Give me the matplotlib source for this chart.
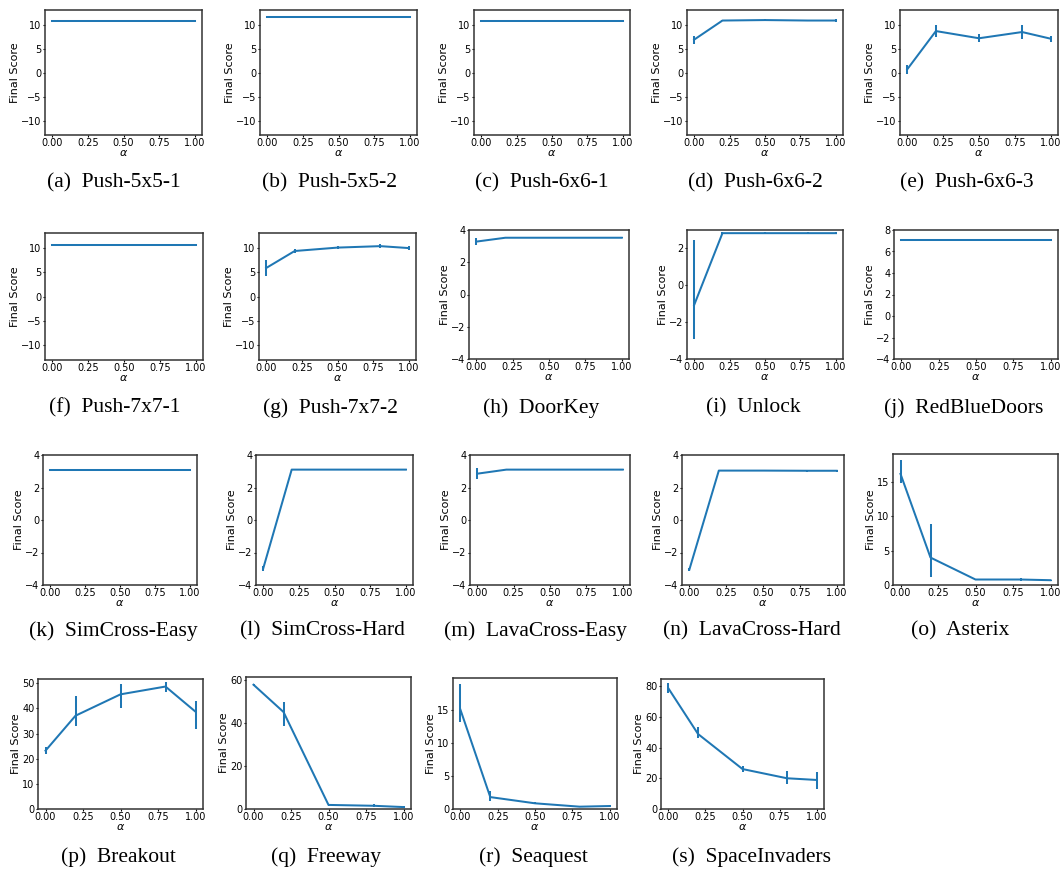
import numpy as np
import matplotlib
matplotlib.use('Agg')
import matplotlib.pyplot as plt

# alpha values used on the x axis of every panel
alpha = [0.0, 0.2, 0.5, 0.8, 1.0]

env_names = ['Push-5x5-1', 'Push-5x5-2', 'Push-6x6-1', 'Push-6x6-2', 'Push-6x6-3',
             'Push-7x7-1', 'Push-7x7-2', 'DoorKey', 'Unlock', 'RedBlueDoors',
             'SimCross-Easy', 'SimCross-Hard', 'LavaCross-Easy', 'LavaCross-Hard', 'Asterix',
             'Breakout', 'Freeway', 'Seaquest', 'SpaceInvaders']

# final score (mean) for each environment
score_mean = [
    [10.8, 10.8, 10.8, 10.8, 10.8],
    [11.6, 11.6, 11.6, 11.6, 11.6],
    [10.75, 10.75, 10.75, 10.75, 10.75],
    [6.9, 10.9, 11.0, 10.9, 10.9],
    [0.7, 8.7, 7.2, 8.5, 7.1],
    [10.7, 10.7, 10.7, 10.7, 10.7],
    [5.9, 9.4, 10.1, 10.4, 10.0],
    [3.28, 3.52, 3.52, 3.52, 3.52],
    [-1.1, 2.78, 2.78, 2.78, 2.78],
    [7.1, 7.1, 7.1, 7.1, 7.1],
    [3.1, 3.1, 3.1, 3.1, 3.1],
    [-3.0, 3.1, 3.1, 3.1, 3.1],
    [2.85, 3.1, 3.1, 3.1, 3.1],
    [-3.05, 3.04, 3.04, 3.03, 3.03],
    [16.2, 4.0, 0.8, 0.8, 0.7],
    [23.2, 37.1, 45.6, 48.7, 38.7],
    [57.9, 45.2, 1.9, 1.5, 0.9],
    [15.0, 1.8, 0.86, 0.35, 0.45],
    [78.5, 48.8, 26.0, 20.0, 18.9],
]

# lower / upper error bar lengths
err_low = [
    [0.15, 0.15, 0.15, 0.15, 0.15],
    [0.15, 0.15, 0.15, 0.15, 0.15],
    [0.15, 0.15, 0.15, 0.15, 0.15],
    [0.8, 0.2, 0.15, 0.15, 0.4],
    [0.95, 1.2, 0.85, 1.55, 0.6],
    [0.15, 0.15, 0.15, 0.15, 0.15],
    [1.55, 0.4, 0.3, 0.35, 0.4],
    [0.2, 0.04, 0.04, 0.04, 0.04],
    [1.8, 0.04, 0.04, 0.04, 0.04],
    [0.05, 0.05, 0.05, 0.05, 0.05],
    [0.04, 0.04, 0.04, 0.04, 0.04],
    [0.15, 0.04, 0.04, 0.04, 0.04],
    [0.33, 0.04, 0.04, 0.04, 0.04],
    [0.08, 0.05, 0.05, 0.05, 0.05],
    [1.4, 2.8, 0.1, 0.15, 0.1],
    [1.5, 4.1, 5.6, 2.3, 7.0],
    [0.5, 6.7, 0.6, 0.6, 0.3],
    [1.9, 0.6, 0.15, 0.1, 0.1],
    [3.2, 2.8, 2.0, 3.7, 5.9],
]
err_high = [
    [0.15, 0.15, 0.15, 0.15, 0.15],
    [0.15, 0.15, 0.15, 0.15, 0.15],
    [0.15, 0.15, 0.15, 0.15, 0.15],
    [0.8, 0.2, 0.15, 0.15, 0.4],
    [0.95, 1.2, 0.85, 1.55, 0.6],
    [0.15, 0.15, 0.15, 0.15, 0.15],
    [1.55, 0.4, 0.3, 0.35, 0.4],
    [0.2, 0.04, 0.04, 0.04, 0.04],
    [3.5, 0.04, 0.04, 0.04, 0.04],
    [0.05, 0.05, 0.05, 0.05, 0.05],
    [0.04, 0.04, 0.04, 0.04, 0.04],
    [0.15, 0.04, 0.04, 0.04, 0.04],
    [0.33, 0.04, 0.04, 0.04, 0.04],
    [0.08, 0.05, 0.05, 0.05, 0.05],
    [2.0, 4.9, 0.1, 0.15, 0.1],
    [1.5, 7.9, 4.1, 2.0, 4.1],
    [0.5, 4.6, 0.6, 0.6, 0.3],
    [3.9, 0.9, 0.15, 0.1, 0.1],
    [3.2, 4.8, 2.0, 4.7, 5.0],
]

# layout: axes boxes in pixels (left, top, right, bottom), caption centre (x, y)
W, H = 1063, 874
boxes = [
    (45, 10, 202, 135), (260, 10, 417, 135), (474, 10, 630, 135), (687, 10, 843, 135), (900, 10, 1058, 135),
    (45, 233, 203, 360), (259, 233, 416, 360), (469, 230, 629, 359), (687, 230, 843, 359), (894, 230, 1058, 359),
    (43, 455, 197, 585), (256, 455, 413, 585), (470, 455, 630, 585), (682, 455, 844, 585), (893, 454, 1058, 585),
    (38, 679, 203, 809), (246, 677, 411, 809), (453, 678, 617, 809), (661, 679, 824, 809),
]
captions = [
    (114, 183), (330, 183), (542, 183), (755, 183), (967, 183),
    (115, 408), (330, 408), (541, 408), (753, 408), (964, 408),
    (113, 631), (322, 631), (535, 631), (752, 631), (960, 631),
    (118, 857), (326, 857), (533, 857), (751, 857),
]
push_lim = ((-13, 13.1), [-10, -5, 0, 5, 10])
grid_lim = ((-4, 4), [-4, -2, 0, 2, 4])
y_limits = [push_lim] * 7 + [
    grid_lim,
    ((-4, 2.95), [-4, -2, 0, 2]),
    ((-4, 8), [-4, -2, 0, 2, 4, 6, 8]),
    grid_lim, grid_lim, grid_lim, grid_lim,
    ((0, 19.1), [0, 5, 10, 15]),
    ((0, 51.7), [0, 10, 20, 30, 40, 50]),
    ((0, 61.5), [0, 20, 40, 60]),
    ((0, 19.8), [0, 5, 10, 15]),
    ((0, 84.6), [0, 20, 40, 60, 80]),
]

fig = plt.figure(figsize=(W / 100, H / 100), dpi=100)

for i, name in enumerate(env_names):
    l, t, r, b = boxes[i]
    ax = fig.add_axes([l / W, 1 - b / H, (r - l) / W, (b - t) / H])
    ax.errorbar(alpha, score_mean[i], yerr=[err_low[i], err_high[i]],
                color='#1f77b4', lw=1.45, elinewidth=1.45, capsize=0)
    ax.set_xlim(-0.05, 1.05)
    ax.set_xticks([0, 0.25, 0.5, 0.75, 1.0])
    ax.set_xticklabels(['0.00', '0.25', '0.50', '0.75', '1.00'])
    ylim, yticks = y_limits[i]
    ax.set_ylim(*ylim)
    ax.set_yticks(yticks)
    ax.tick_params(labelsize=7, length=1.5, pad=1)
    ax.set_xlabel(r'$\alpha$', fontsize=8, labelpad=0)
    ax.set_ylabel('Final Score', fontsize=8, labelpad=1)
    for s in ax.spines.values():
        s.set_color('#333333')
        s.set_linewidth(1.1)

    # subfigure caption
    cx, cy = captions[i]
    fig.text(cx / W, 1 - cy / H, '(%s)  %s' % (chr(ord('a') + i), name),
             ha='center', va='center', fontsize=15.5, family='Liberation Serif')

plt.savefig('out.png', dpi=100)
